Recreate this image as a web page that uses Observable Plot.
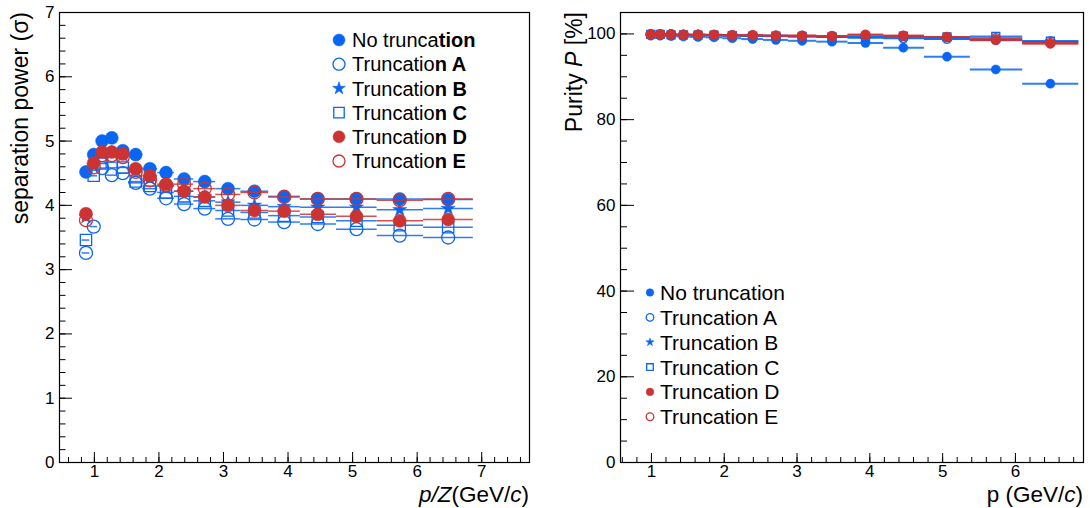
<!DOCTYPE html>
<html><head><meta charset="utf-8">
<script src="https://cdn.jsdelivr.net/npm/d3@7"></script>
<script src="https://cdn.jsdelivr.net/npm/@observablehq/plot@0.6"></script>
<style>
body{margin:0;background:#fff;}
#wrap{position:relative;width:1090px;height:508px;background:#fff;font-family:"Liberation Sans",Arial,Helvetica,sans-serif;}
#wrap > svg{position:absolute;top:0;}
</style></head><body><div id="wrap"></div>
<script>
// ---- data ----
const binCenter = [0.87, 0.99, 1.12, 1.27, 1.44, 1.64, 1.86, 2.11, 2.39, 2.71, 3.07, 3.48, 3.94, 4.46, 5.06, 5.73, 6.48];
const binLow    = [0.81, 0.93, 1.05, 1.19, 1.35, 1.53, 1.75, 1.98, 2.24, 2.54, 2.88, 3.27, 3.70, 4.19, 4.75, 5.38, 6.10];
const binHigh   = [0.93, 1.05, 1.19, 1.35, 1.53, 1.75, 1.98, 2.24, 2.54, 2.88, 3.27, 3.70, 4.19, 4.75, 5.38, 6.10, 6.87];

const seriesNames = ["No truncation", "Truncation A", "Truncation B", "Truncation C", "Truncation D", "Truncation E"];

// separation power (left panel), one value per bin
const sepNoTrunc = [4.52, 4.79, 5.00, 5.05, 4.85, 4.79, 4.57, 4.51, 4.41, 4.37, 4.26, 4.22, 4.14, 4.10, 4.10, 4.10, 4.09];
const sepTruncA  = [3.26, 3.67, 4.58, 4.47, 4.50, 4.35, 4.26, 4.11, 4.02, 3.95, 3.79, 3.78, 3.74, 3.71, 3.63, 3.53, 3.50];
const sepTruncB  = [3.82, 4.62, 4.80, 4.82, 4.78, 4.55, 4.42, 4.30, 4.22, 4.13, 4.05, 4.00, 3.98, 3.97, 3.97, 3.93, 3.95];
const sepTruncC  = [3.46, 4.46, 4.65, 4.67, 4.59, 4.37, 4.30, 4.20, 4.14, 4.07, 3.92, 3.89, 3.84, 3.82, 3.76, 3.69, 3.66];
const sepTruncD  = [3.87, 4.66, 4.83, 4.83, 4.80, 4.57, 4.46, 4.33, 4.22, 4.13, 4.00, 3.92, 3.91, 3.86, 3.83, 3.76, 3.78];
const sepTruncE  = [3.77, 4.59, 4.78, 4.78, 4.75, 4.52, 4.39, 4.31, 4.33, 4.26, 4.17, 4.20, 4.13, 4.10, 4.10, 4.08, 4.10];

// purity (right panel), bins 2..17
const purNoTrunc = [99.6, 99.6, 99.5, 99.4, 99.3, 99.2, 99.0, 98.8, 98.6, 98.4, 98.2, 97.9, 96.8, 94.7, 91.7, 88.4];
const purTruncA  = [99.9, 99.9, 99.9, 99.8, 99.8, 99.7, 99.7, 99.6, 99.6, 99.5, 99.4, 99.3, 99.1, 98.9, 98.7, 98.3];
const purTruncB  = [99.9, 99.9, 99.9, 99.8, 99.8, 99.7, 99.6, 99.6, 99.5, 99.4, 99.3, 99.2, 99.0, 98.8, 98.6, 98.2];
const purTruncC  = [99.9, 99.9, 99.8, 99.8, 99.7, 99.7, 99.6, 99.5, 99.5, 99.4, 99.3, 99.1, 99.5, 99.3, 99.4, 98.3];
const purTruncD  = [99.9, 99.9, 99.9, 99.8, 99.8, 99.8, 99.7, 99.7, 99.6, 99.6, 99.5, 99.8, 99.6, 99.3, 98.5, 97.7];
const purTruncE  = [99.9, 99.9, 99.9, 99.8, 99.8, 99.8, 99.7, 99.7, 99.6, 99.6, 99.5, 99.8, 99.6, 99.3, 99.0, 97.9];

const sepTicks = [0, 1, 2, 3, 4, 5, 6, 7];
const purTicks = [0, 20, 40, 60, 80, 100];
const leftXTicks = [1, 2, 3, 4, 5, 6, 7];
const rightXTicks = [1, 2, 3, 4, 5, 6];

// ---- styles ----
const BLUE = "#0a66f2", RED = "#cc3333";
const sColor  = [BLUE, BLUE, BLUE, BLUE, RED, RED];
const sSymbol = ["circle", "circle", "star", "square", "circle", "circle"];
const sFilled = [true, false, true, false, true, false];
const FONT = '"Liberation Sans", Arial, Helvetica, sans-serif';

const sepSeries = [sepNoTrunc, sepTruncA, sepTruncB, sepTruncC, sepTruncD, sepTruncE];
const purSeries = [purNoTrunc, purTruncA, purTruncB, purTruncC, purTruncD, purTruncE];

function rows(vals, offset) {
  return vals.map((v, i) => ({x: binCenter[i + offset], lo: binLow[i + offset], hi: binHigh[i + offset], y: v}));
}
function rSym(sym, base) { return sym === "star" ? base * 0.68 : sym === "square" ? base * 0.98 : base; }

function seriesMarks(all, offset, rBase, lw) {
  const m = [];
  all.forEach((vals, s) => {
    const d = rows(vals, offset);
    m.push(Plot.ruleY(d, {y: "y", x1: "lo", x2: "hi", stroke: sColor[s], strokeWidth: lw, strokeOpacity: 0.85}));
    m.push(Plot.dot(d, {x: "x", y: "y", symbol: sSymbol[s], r: rSym(sSymbol[s], rBase),
      fill: sFilled[s] ? sColor[s] : "none", stroke: sColor[s], strokeWidth: sFilled[s] ? 0.5 : 1.3}));
  });
  return m;
}
const minor = (a, b, st) => d3.range(Math.round(a / st), Math.round(b / st) + 1).map(k => +(k * st).toFixed(3));

const common = {width: 545, height: 508, marginTop: 12, marginBottom: 46,
  style: {fontFamily: FONT, fontSize: "17px", color: "#000", background: "transparent", overflow: "visible"}};

const left = Plot.plot({
  ...common, marginLeft: 59, marginRight: 16,
  x: {domain: [0.46, 7.74]}, y: {domain: [0, 7]},
  marks: [
    Plot.axisY(minor(0, 7, 0.2), {tickSize: -6.5, tickFormat: () => "", label: null}),
    Plot.axisY(sepTicks, {tickSize: -13, tickPadding: 18, tickFormat: d => String(d), label: null, fontSize: 17}),
    Plot.axisX(minor(0.6, 7.6, 0.2), {tickSize: -5, tickFormat: () => "", label: null}),
    Plot.axisX(leftXTicks, {tickSize: -10, tickPadding: 12, tickFormat: d => String(d), label: null, fontSize: 17}),
    ...seriesMarks(sepSeries, 0, 6.5, 1.5),
    Plot.frame({stroke: "#000", strokeWidth: 1.2})
  ]
});
left.style.left = "0px";

const right = Plot.plot({
  ...common, marginLeft: 75, marginRight: 7,
  x: {domain: [0.575, 6.935]}, y: {domain: [0, 105]},
  marks: [
    Plot.axisY(minor(0, 105, 5), {tickSize: -7, tickFormat: () => "", label: null}),
    Plot.axisY(purTicks, {tickSize: -14, tickPadding: 19, tickFormat: d => String(d), label: null, fontSize: 17}),
    Plot.axisX(minor(0.6, 6.8, 0.2), {tickSize: -5, tickFormat: () => "", label: null}),
    Plot.axisX(rightXTicks, {tickSize: -9, tickPadding: 11, tickFormat: d => String(d), label: null, fontSize: 17}),
    ...seriesMarks(purSeries, 1, 4.6, 2),
    Plot.frame({stroke: "#000", strokeWidth: 1.2})
  ]
});
right.style.left = "545px";

const wrap = document.getElementById("wrap");
wrap.appendChild(left);
wrap.appendChild(right);

// ---- overlay: axis titles & legends ----
const NS = "http://www.w3.org/2000/svg";
const ov = document.createElementNS(NS, "svg");
ov.setAttribute("width", 1090); ov.setAttribute("height", 508);
ov.style.left = "0px"; ov.style.fontFamily = FONT;
wrap.appendChild(ov);

ov.innerHTML = `
<text transform="translate(28,12) rotate(-90)" text-anchor="end" font-size="23">separation power (σ)</text>
<text x="529" y="502" text-anchor="end" font-size="22.5"><tspan font-style="italic">p/Z</tspan>(GeV/<tspan font-style="italic">c</tspan>)</text>
<text transform="translate(582,12) rotate(-90)" text-anchor="end" font-size="23">Purity <tspan font-style="italic">P</tspan> [%]</text>
<text x="1083" y="502" text-anchor="end" font-size="22.5">p (GeV/<tspan font-style="italic">c</tspan>)</text>`;

function legend(x0, y0, dy, textX, fs, rBase, boldTail) {
  seriesNames.forEach((name, s) => {
    const y = y0 + s * dy;
    const sym = {circle: d3.symbolCircle, star: d3.symbolStar, square: d3.symbolSquare}[sSymbol[s]];
    const r = rSym(sSymbol[s], rBase);
    const p = document.createElementNS(NS, "path");
    p.setAttribute("d", d3.symbol(sym, Math.PI * r * r)());
    p.setAttribute("transform", `translate(${x0},${y})`);
    p.setAttribute("fill", sFilled[s] ? sColor[s] : "none");
    p.setAttribute("stroke", sColor[s]);
    p.setAttribute("stroke-width", sFilled[s] ? 0.5 : 1.3);
    ov.appendChild(p);
    const t = document.createElementNS(NS, "text");
    t.setAttribute("x", textX); t.setAttribute("y", y); t.setAttribute("dy", "0.36em");
    t.setAttribute("font-size", fs);
    if (boldTail) {
      t.innerHTML = `<tspan>${name.slice(0, 9)}</tspan><tspan font-weight="bold">${name.slice(9)}</tspan>`;
    } else t.textContent = name;
    ov.appendChild(t);
  });
}
legend(339, 40, 24.2, 352, 20, 6, true);
legend(650, 292.5, 24.85, 660, 21, 3.8, false);
</script></body></html>
